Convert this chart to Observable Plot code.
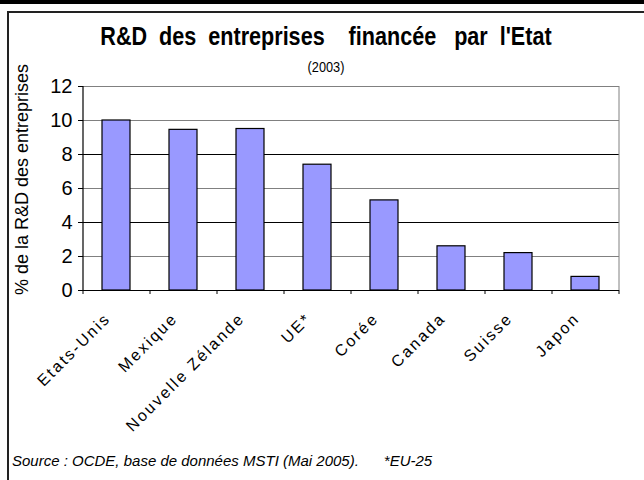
<!DOCTYPE html>
<html><head><meta charset="utf-8">
<script src="https://cdn.jsdelivr.net/npm/d3@7"></script>
<script src="https://cdn.jsdelivr.net/npm/@observablehq/plot@0.6"></script>
<style>
body{margin:0;background:#fff;}
#wrap{position:relative;width:644px;height:480px;overflow:hidden;font-family:"Liberation Sans",Arial,sans-serif;background:#fff;}
#topbar{position:absolute;left:0;top:0;width:644px;height:4px;background:#000;}
#frame{position:absolute;left:7px;top:11px;width:700px;height:500px;border-left:2px solid #222;border-top:2px solid #222;box-sizing:border-box;}
#chart{position:absolute;left:0;top:0;}
#title{position:absolute;left:0;width:652px;top:21px;text-align:center;font-weight:bold;font-size:26px;white-space:pre;transform:scaleX(0.83);transform-origin:326px 0;}
#subtitle{position:absolute;left:0;width:652px;top:58px;text-align:center;font-size:15px;transform:scaleX(0.85);transform-origin:326px 0;}
#caption{position:absolute;left:12px;top:452px;font-size:15px;font-style:italic;white-space:pre;}
</style></head>
<body><div id="wrap">
<div id="topbar"></div>
<div id="frame"></div>
<div id="chart"></div>
<div id="title">R&amp;D  des  entreprises    financée   par  l'Etat</div>
<div id="subtitle">(2003)</div>
<div id="caption">Source : OCDE, base de données MSTI (Mai 2005).      *EU-25</div>
</div>
<script>
const countries = ["Etats-Unis","Mexique","Nouvelle Zélande","UE*","Corée","Canada","Suisse","Japon"];
const values = [10.0, 9.45, 9.5, 7.4, 5.3, 2.6, 2.2, 0.8];
const yTicks = [0,2,4,6,8,10,12];
const gridDark = [4,8];
const gridLight = [2,6,10];
const yLabel = "% de la R&D des entreprises";

const W = 644, H = 440, mL = 83, mR = 25, mT = 86, mB = 150;
const halfStep = (W - mL - mR) / countries.length / 2;
const data = countries.map((c,i)=>({country:c, value:values[i]}));

const chart = Plot.plot({
  width: W, height: H,
  marginLeft: mL, marginRight: mR, marginTop: mT, marginBottom: mB,
  style: {background:"transparent", fontFamily:"'Liberation Sans', Arial, sans-serif", color:"#000"},
  x: {domain: countries, paddingInner: 0.58, paddingOuter: 0.29, label: null},
  y: {domain: [0,12], label: null},
  marks: [
    Plot.ruleY(gridLight, {stroke:"#808080", strokeWidth:1}),
    Plot.ruleY(gridDark, {stroke:"#000", strokeWidth:1}),
    Plot.ruleY([12], {stroke:"#808080"}),
    Plot.ruleX([countries[countries.length-1]], {y1:0, y2:12, dx: halfStep, stroke:"#808080"}),
    Plot.barY(data, {x:"country", y:"value", fill:"#9999FF", stroke:"#000", strokeWidth:1.2}),
    Plot.ruleY([0], {stroke:"#000", strokeWidth:1.2}),
    Plot.ruleX([countries[0]], {y1:0, y2:12, dx: -halfStep, stroke:"#000", strokeWidth:1.2}),
    Plot.axisY({ticks: yTicks, tickSize:5, tickPadding:6, fontSize:20, label:null}),
    Plot.axisX({ticks: countries, tickSize:4, dx: -halfStep, text: null}),
    Plot.axisX({ticks: [countries[countries.length-1]], tickSize:4, dx: halfStep, text: null}),
    Plot.text(countries, {x: d=>d, frameAnchor:"bottom", rotate:-45, textAnchor:"end", lineAnchor:"bottom", dy:29, dx:-5, fontSize:16}),
    Plot.text([yLabel], {frameAnchor:"left", textAnchor:"middle", rotate:-90, dx:-61, dy:-9, fontSize:18})
  ]
});
document.getElementById("chart").appendChild(chart);
chart.querySelectorAll("text").forEach(t => {
  if (countries.includes(t.textContent)) t.setAttribute("letter-spacing", "2.2");
});
</script>
</body></html>
